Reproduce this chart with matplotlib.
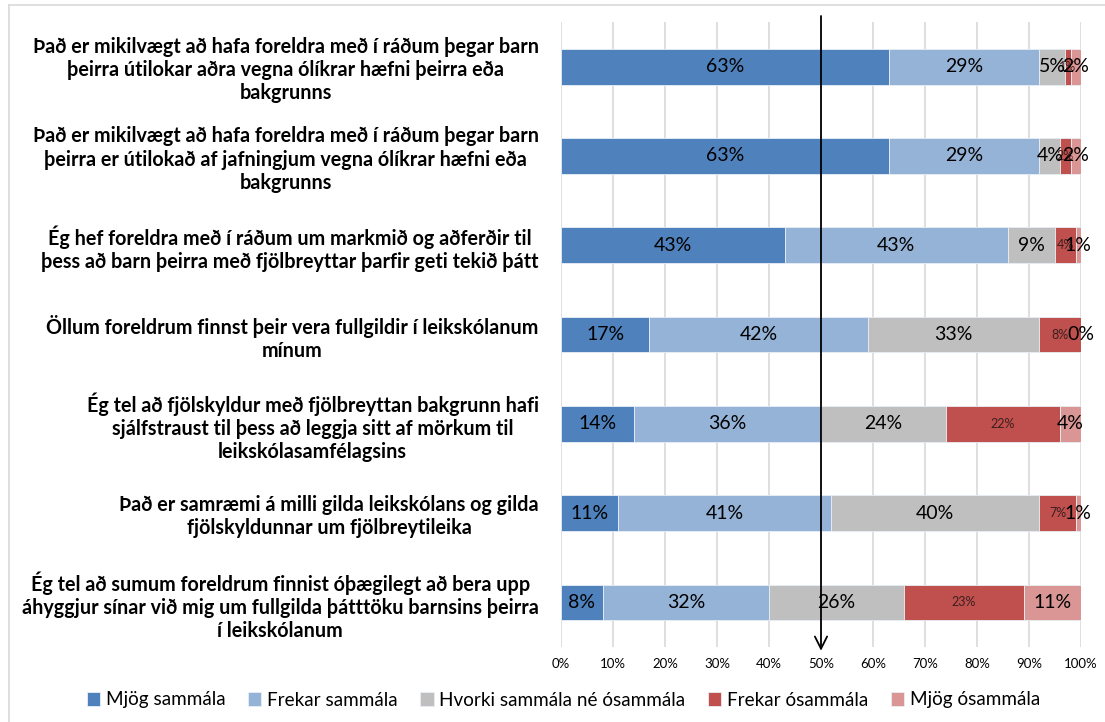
import matplotlib
matplotlib.use("Agg")
import matplotlib.pyplot as plt
from matplotlib.lines import Line2D
import numpy as np

categories = [
    "Það er mikilvægt að hafa foreldra með í ráðum þegar barn\nþeirra útilokar aðra vegna ólíkrar hæfni þeirra eða\nbakgrunns",
    "Það er mikilvægt að hafa foreldra með í ráðum þegar barn\nþeirra er útilokað af jafningjum vegna ólíkrar hæfni eða\nbakgrunns",
    "Ég hef foreldra með í ráðum um markmið og aðferðir til\nþess að barn þeirra með fjölbreyttar þarfir geti tekið þátt",
    "Öllum foreldrum finnst þeir vera fullgildir í leikskólanum\nmínum",
    "Ég tel að fjölskyldur með fjölbreyttan bakgrunn hafi\nsjálfstraust til þess að leggja sitt af mörkum til\nleikskólasamfélagsins",
    "Það er samræmi á milli gilda leikskólans og gilda\nfjölskyldunnar um fjölbreytileika",
    "Ég tel að sumum foreldrum finnist óþægilegt að bera upp\náhyggjur sínar við mig um fullgilda þátttöku barnsins þeirra\ní leikskólanum",
]
series_names = ["Mjög sammála", "Frekar sammála", "Hvorki sammála né ósammála",
                "Frekar ósammála", "Mjög ósammála"]
mjog_sammala = [63, 63, 43, 17, 14, 11, 8]
frekar_sammala = [29, 29, 43, 42, 36, 41, 32]
hvorki = [5, 4, 9, 33, 24, 40, 26]
frekar_osammala = [1, 2, 4, 8, 22, 7, 23]
mjog_osammala = [2, 2, 1, 0, 4, 1, 11]
xticks = [0, 10, 20, 30, 40, 50, 60, 70, 80, 90, 100]

series = [mjog_sammala, frekar_sammala, hvorki, frekar_osammala, mjog_osammala]
colors = ["#4F81BD", "#95B3D7", "#BFBFBF", "#C0504D", "#D99694"]

W, H = 1105, 722
fig = plt.figure(figsize=(W / 100, H / 100), dpi=100)
left, right, top, bottom = 561, 1081, 22, 647
ax = fig.add_axes([left / W, 1 - bottom / H, (right - left) / W, (bottom - top) / H])

n = len(categories)
y = np.arange(n)
cum = np.zeros(n)
for i, (vals, col, name) in enumerate(zip(series, colors, series_names)):
    vals = np.array(vals, dtype=float)
    ax.barh(y, vals, left=cum, height=0.4, color=col, edgecolor="#E8EEF6",
            linewidth=0.6, label=name, zorder=2)
    for j in range(n):
        cx = cum[j] + vals[j] / 2
        if i == 3:
            ax.text(cx, y[j], f"{int(vals[j])}%", ha="center", va="center",
                    fontsize=9, color="#3a1f1f", family="Lato", zorder=4)
        else:
            ax.text(cx, y[j], f"{int(vals[j])}%", ha="center", va="center",
                    fontsize=14, color="black", family="Lato", zorder=5)
    cum += vals

ax.set_xlim(0, 100)
ax.set_ylim(n - 0.5, -0.5)
ax.set_xticks(xticks)
ax.set_xticklabels([f"{t}%" for t in xticks], fontsize=9.5, family="Lato")
ax.set_yticks(y)
ax.set_yticklabels(categories, fontsize=14.2, fontweight="bold", family="Lato",
                   multialignment="center")
ax.tick_params(axis="both", length=0)
ax.tick_params(axis="y", pad=16)
ax.tick_params(axis="x", pad=8)
ax.grid(axis="x", color="#D9D9D9", linewidth=1.2, zorder=0)
ax.set_axisbelow(True)
for s in ax.spines.values():
    s.set_visible(False)

# arrow at 50%
ax.annotate("", xy=(50, -0.006), xycoords=("data", "axes fraction"),
            xytext=(50, 1.0096), textcoords=("data", "axes fraction"),
            arrowprops=dict(arrowstyle="->", color="black", lw=1.3,
                            mutation_scale=22, shrinkA=0, shrinkB=0),
            zorder=6, annotation_clip=False)

leg = fig.legend(loc="center", bbox_to_anchor=(0.51, 1 - 700 / H), ncol=5,
                 frameon=False, prop={"family": "Lato", "size": 13.6},
                 handlelength=0.7, handleheight=0.7, handletextpad=0.3,
                 columnspacing=1.2)

fig.add_artist(Line2D([9 / W, 9 / W], [0, 1 - 5 / H], color="#D9D9D9", lw=1.2))
fig.add_artist(Line2D([9 / W, 1], [1 - 5 / H, 1 - 5 / H], color="#D9D9D9", lw=1.2))

fig.savefig("out.png", dpi=100)
